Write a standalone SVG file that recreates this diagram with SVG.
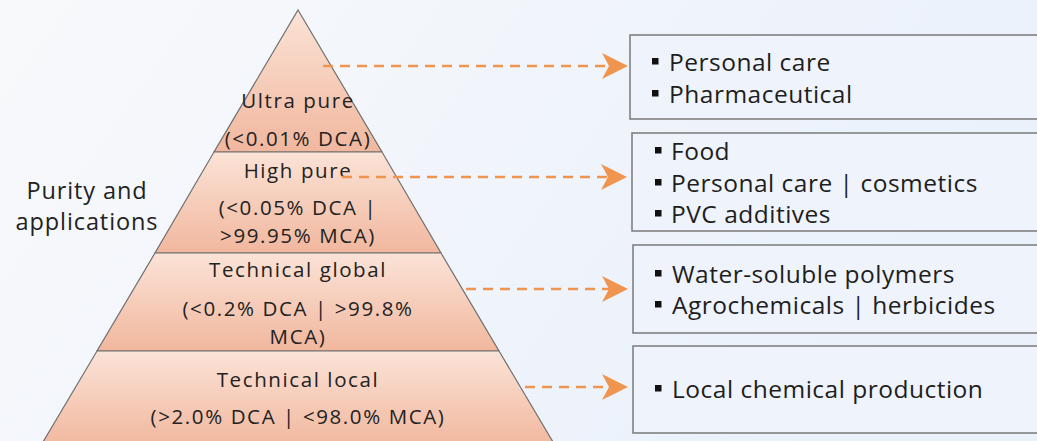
<svg xmlns="http://www.w3.org/2000/svg" width="1037" height="441" viewBox="0 0 1037 441">
<defs>
<linearGradient id="bg" x1="0" y1="0" x2="1" y2="0.3">
<stop offset="0" stop-color="#f8f9fb"/>
<stop offset="1" stop-color="#eaf1fb"/>
</linearGradient>
<linearGradient id="tier" x1="0" y1="0" x2="0" y2="1">
<stop offset="0" stop-color="#fbe3d7"/>
<stop offset="1" stop-color="#f1b79e"/>
</linearGradient>
<marker id="ah" markerUnits="userSpaceOnUse" markerWidth="26" markerHeight="26" refX="7" refY="13" orient="auto" viewBox="0 0 26 26">
<path d="M0,0 L26,13 L0,26 L7,13 Z" fill="#ef9550"/>
</marker>
<style>
.tier{fill:url(#tier);stroke:#707070;stroke-width:1.2;}
.lbl{font-family:"Open Sans","Liberation Sans",sans-serif;font-size:20.5px;fill:#222;text-anchor:middle;letter-spacing:1.6px;}
.side{font-family:"Open Sans","Liberation Sans",sans-serif;font-size:23.5px;fill:#222;text-anchor:middle;letter-spacing:0.9px;}
.box{fill:#eef3fc;stroke:#808080;stroke-width:1.6;}
.bt{font-family:"Open Sans","Liberation Sans",sans-serif;font-size:24.5px;fill:#1e1e1e;letter-spacing:0.5px;}
.bul{fill:#111;}
.conn{stroke:#ef9550;stroke-width:2.6;stroke-dasharray:10 7;fill:none;}
</style>
</defs>
<rect x="0" y="0" width="1037" height="441" fill="url(#bg)"/>

<g id="tier-ultra-pure">
<polygon class="tier" points="298,10 382,152 214,152"/>
<text class="lbl" x="298" y="108">Ultra pure</text>
<text class="lbl" x="298" y="146">(&lt;0.01% DCA)</text>
</g>
<g id="tier-high-pure">
<polygon class="tier" points="214,152 382,152 441,253 155,253"/>
<text class="lbl" x="298" y="178">High pure</text>
<text class="lbl" x="298" y="215">(&lt;0.05% DCA |</text>
<text class="lbl" x="298" y="243">&gt;99.95% MCA)</text>
</g>
<g id="tier-technical-global">
<polygon class="tier" points="155,253 441,253 499,351 97,351"/>
<text class="lbl" x="298" y="277">Technical global</text>
<text class="lbl" x="298" y="316">(&lt;0.2% DCA | &gt;99.8%</text>
<text class="lbl" x="298" y="344">MCA)</text>
</g>
<g id="tier-technical-local">
<polygon class="tier" points="97,351 499,351 556,447 40,447"/>
<text class="lbl" x="298" y="387">Technical local</text>
<text class="lbl" x="298" y="424">(&gt;2.0% DCA | &lt;98.0% MCA)</text>
</g>
<g id="side-label">
<text class="side" x="87" y="199">Purity and</text>
<text class="side" x="87" y="230">applications</text>
</g>

<g id="box-ultra">
<rect class="box" x="630" y="35" width="420" height="84"/>
<rect class="bul" x="652" y="58" width="6.5" height="6.5"/>
<text class="bt" x="669" y="71">Personal care</text>
<rect class="bul" x="652" y="90" width="6.5" height="6.5"/>
<text class="bt" x="669" y="103">Pharmaceutical</text>
</g>
<g id="box-high">
<rect class="box" x="632" y="133" width="420" height="98"/>
<rect class="bul" x="655" y="147" width="6.5" height="6.5"/>
<text class="bt" x="671" y="160">Food</text>
<rect class="bul" x="655" y="179" width="6.5" height="6.5"/>
<text class="bt" x="671" y="192">Personal care | cosmetics</text>
<rect class="bul" x="655" y="210" width="6.5" height="6.5"/>
<text class="bt" x="671" y="223">PVC additives</text>
</g>
<g id="box-global">
<rect class="box" x="633" y="245" width="420" height="88"/>
<rect class="bul" x="655" y="270" width="6.5" height="6.5"/>
<text class="bt" x="672" y="283">Water-soluble polymers</text>
<rect class="bul" x="655" y="301" width="6.5" height="6.5"/>
<text class="bt" x="672" y="314">Agrochemicals | herbicides</text>
</g>
<g id="box-local">
<rect class="box" x="633" y="346" width="420" height="87"/>
<rect class="bul" x="655" y="385" width="6.5" height="6.5"/>
<text class="bt" x="672" y="398">Local chemical production</text>
</g>

<g id="connectors">
<line class="conn" x1="323" y1="66" x2="609" y2="66" marker-end="url(#ah)"/>
<line class="conn" x1="342" y1="177" x2="608" y2="177" marker-end="url(#ah)"/>
<line class="conn" x1="466" y1="289" x2="609" y2="289" marker-end="url(#ah)"/>
<line class="conn" x1="525" y1="387" x2="609" y2="387" marker-end="url(#ah)"/>
</g>
</svg>
